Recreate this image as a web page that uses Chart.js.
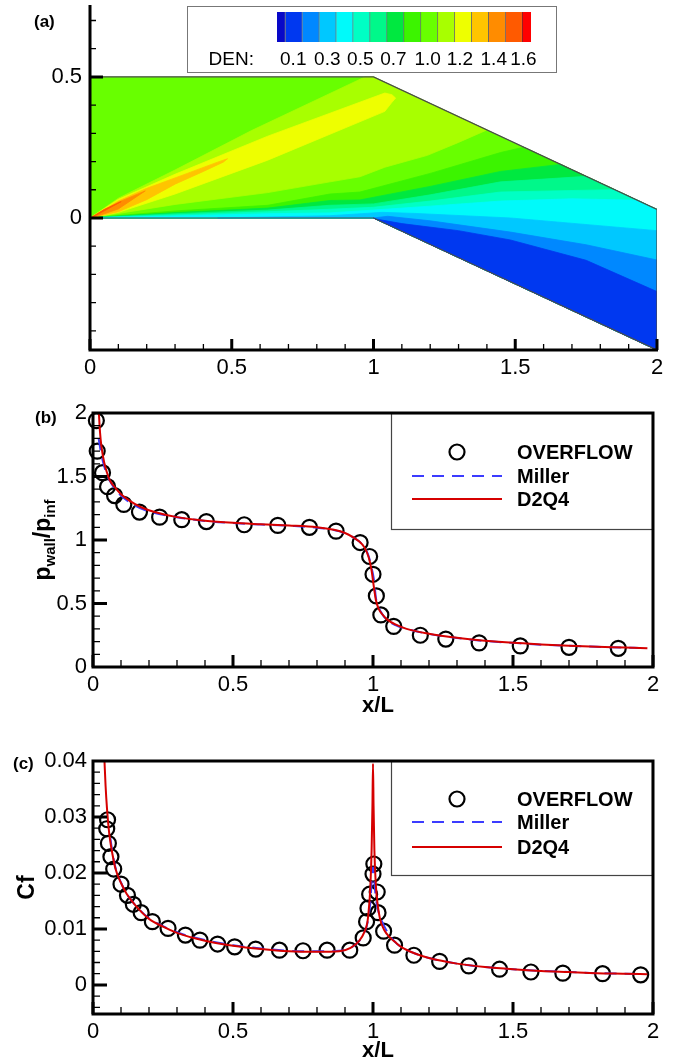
<!DOCTYPE html>
<html>
<head>
<meta charset="utf-8">
<script src="https://cdn.jsdelivr.net/npm/chart.js@4.4.1/dist/chart.umd.min.js"></script>
<style>
  html, body { margin: 0; padding: 0; background: #fff; }
  #page { position: relative; width: 674px; height: 1062px; overflow: hidden; background: #fff; }
  #page > canvas { position: absolute; left: 0; }
  #legA { position: absolute; left: 187px; top: 6px; width: 368px; height: 65px; border: 1px solid #777; background: #fff; }
  #legA canvas { position: absolute; left: 0; top: 0; }
</style>
</head>
<body>
<div id="page">
  <canvas id="panelA" width="674" height="390" style="top:0"></canvas>
  <div id="legA"><canvas id="colorbar" width="368" height="65"></canvas></div>
  <canvas id="panelB" width="674" height="330" style="top:390px"></canvas>
  <canvas id="panelC" width="674" height="327" style="top:735px"></canvas>
</div>
<script>
// ---------- (a) densidad: barra de colores ----------
const DEN_LABELS = ['DEN:', '0.1', '0.3', '0.5', '0.7', '1.0', '1.2', '1.4', '1.6'];
const DEN_LABEL_AT = [-2.7, 0.96, 2.97, 4.92, 6.87, 8.9, 10.8, 12.8, 14.55];
const DEN_EDGES = [0, 0.5, 1.5, 2.5, 3.5, 4.5, 5.5, 6.5, 7.5, 8.5, 9.5, 10.5, 11.5, 12.5, 13.5, 14.5, 15];
const DEN_COLORS = ['#0808c8', '#0038f0', '#0088ff', '#00c8ff', '#00fafa', '#00ffc4', '#00f88a', '#00e840',
                    '#3cf400', '#68ff00', '#a8ff00', '#eeff00', '#ffc400', '#ff8c00', '#ff5a00', '#ff0000'];
const CB_MIN = -5.256;

// ---------- (a) geometria y contornos (x/L, y/L) ----------
const DOMAIN = [[0, 0], [0, 0.5], [1, 0.5], [2, 0.03], [2, -0.468], [1, 0], [0, 0]];
const SHOCK_LIME = [[0, 0], [0.1, 0.07], [0.3, 0.17], [0.57, 0.31], [0.97, 0.5], [1, 0.5], [1.40, 0.312], [1.3, 0.268],
                    [1.19, 0.222], [1.04, 0.18], [0.952, 0.146], [0.846, 0.128], [0.627, 0.09], [0.3, 0.048], [0.05, 0.008], [0, 0]];
const SHOCK_YELLOW = [[0, 0], [0.1, 0.066], [0.3, 0.155], [0.627, 0.29], [1.04, 0.443], [1.065, 0.437], [1.078, 0.425],
                      [1.065, 0.41], [1.04, 0.378], [0.627, 0.205], [0.3, 0.085], [0.1, 0.02], [0, 0]];
const SHOCK_GOLD = [[0, 0], [0.1, 0.06], [0.2, 0.105], [0.343, 0.158], [0.45, 0.198], [0.485, 0.21], [0.47, 0.198],
                    [0.4, 0.165], [0.3, 0.12], [0.2, 0.065], [0.1, 0.022], [0, 0]];
const SHOCK_ORANGE = [[0, 0], [0.1, 0.056], [0.195, 0.096], [0.18, 0.086], [0.1, 0.032], [0.03, 0.008], [0, 0]];
const SHOCK_CORE = [[0.005, 0.002], [0.05, 0.03], [0.11, 0.058], [0.07, 0.036], [0.02, 0.009], [0.005, 0.002]];
const FAN_98 = [[0.03, 0.003], [0.3, 0.025], [0.627, 0.045], [0.846, 0.085], [0.952, 0.092], [1.2, 0.158], [1.448, 0.232], [1.53, 0.251]];
const FAN_87 = [[0.03, 0.0025], [0.3, 0.019], [0.627, 0.035], [0.846, 0.062], [0.952, 0.064], [1.2, 0.112], [1.448, 0.165], [1.66, 0.19]];
const FAN_76 = [[0.03, 0.002], [0.3, 0.015], [0.627, 0.028], [0.846, 0.045], [1.0, 0.05], [1.2, 0.082], [1.448, 0.128], [1.75, 0.1475]];
const FAN_65 = [[0.03, 0.0015], [0.3, 0.011], [0.627, 0.022], [0.846, 0.031], [1.0, 0.038], [1.2, 0.06], [1.448, 0.092], [1.85, 0.1005]];
const FAN_54 = [[0.03, 0.001], [0.3, 0.007], [0.627, 0.015], [0.846, 0.018], [1.0, 0.028], [1.2, 0.042], [1.448, 0.06], [1.7, 0.068], [1.93, 0.063]];
const FAN_43 = [[0.45, 0], [0.846, 0.008], [0.97, 0.016], [1.03, 0.02], [1.15, 0.016], [1.483, 0.0], [2, -0.045]];
const FAN_32 = [[1.0, 0], [1.05, 0.006], [1.2, -0.01], [1.483, -0.05], [1.75, -0.095], [2, -0.149]];
const FAN_21 = [[1.01, -0.004], [1.1, -0.02], [1.3, -0.045], [1.483, -0.078], [1.75, -0.15], [2, -0.261]];

// ---------- (b) presion en la pared ----------
const P_OVF_X = [0.012, 0.015, 0.034, 0.052, 0.077, 0.11, 0.166, 0.238, 0.317, 0.405, 0.54, 0.66, 0.773, 0.868, 0.954,
                 0.988, 1.0, 1.012, 1.028, 1.074, 1.169, 1.26, 1.379, 1.526, 1.70, 1.876];
const P_OVF_Y = [1.94, 1.70, 1.53, 1.42, 1.35, 1.28, 1.22, 1.18, 1.16, 1.145, 1.12, 1.115, 1.10, 1.07, 0.98,
                 0.87, 0.73, 0.56, 0.41, 0.32, 0.25, 0.22, 0.19, 0.166, 0.155, 0.147];
const P_MIL_X = [0.02, 0.03, 0.04, 0.05, 0.07, 0.1, 0.15, 0.2, 0.3, 0.4, 0.5, 0.6, 0.7, 0.8, 0.86, 0.9, 0.93, 0.95, 0.97,
                 0.985, 0.995, 1.0, 1.005, 1.01, 1.02, 1.035, 1.05, 1.08, 1.12, 1.2, 1.3, 1.4, 1.5, 1.6, 1.7, 1.8, 1.9, 1.95];
const P_MIL_Y = [1.8, 1.67, 1.58, 1.51, 1.43, 1.35, 1.27, 1.225, 1.18, 1.15, 1.133, 1.122, 1.112, 1.097, 1.078, 1.053, 1.02,
                 0.99, 0.94, 0.87, 0.78, 0.73, 0.66, 0.55, 0.47, 0.41, 0.37, 0.33, 0.3, 0.26, 0.228, 0.205, 0.19, 0.176,
                 0.167, 0.159, 0.152, 0.15];
const P_D2Q4_X = [0.021, 0.025, 0.03, 0.04, 0.05, 0.06, 0.08, 0.1, 0.13, 0.17, 0.22, 0.3, 0.4, 0.5, 0.6, 0.7, 0.8, 0.86,
                  0.9, 0.93, 0.95, 0.97, 0.985, 0.995, 1.0, 1.005, 1.01, 1.02, 1.035, 1.05, 1.08, 1.12, 1.2, 1.3, 1.4,
                  1.5, 1.6, 1.7, 1.8, 1.9, 1.98];
const P_D2Q4_Y = [2.0, 1.85, 1.74, 1.61, 1.53, 1.47, 1.41, 1.36, 1.31, 1.26, 1.22, 1.18, 1.152, 1.135, 1.124, 1.114, 1.1,
                  1.08, 1.055, 1.02, 0.99, 0.94, 0.86, 0.76, 0.68, 0.6, 0.53, 0.46, 0.41, 0.375, 0.335, 0.3, 0.262,
                  0.23, 0.207, 0.19, 0.178, 0.168, 0.16, 0.153, 0.147];

// ---------- (c) coeficiente de friccion ----------
const C_OVF_X = [0.052, 0.049, 0.055, 0.064, 0.074, 0.10, 0.123, 0.144, 0.172, 0.212, 0.268, 0.33, 0.382, 0.445, 0.506,
                 0.581, 0.666, 0.75, 0.836, 0.917, 0.965, 0.977, 0.982, 0.988, 1.0, 1.003, 1.015, 1.018, 1.038, 1.077,
                 1.146, 1.238, 1.342, 1.452, 1.564, 1.678, 1.82, 1.956];
const C_OVF_Y = [0.0295, 0.0279, 0.0253, 0.0229, 0.0207, 0.018, 0.016, 0.0144, 0.0129, 0.0113, 0.0101, 0.0089, 0.008,
                 0.0073, 0.0068, 0.0064, 0.0062, 0.0061, 0.0062, 0.0062, 0.0084, 0.0113, 0.0137, 0.0162, 0.0198, 0.0216,
                 0.0166, 0.0129, 0.0096, 0.0071, 0.0053, 0.0042, 0.0034, 0.0028, 0.0023, 0.0021, 0.002, 0.0018];
const C_MIL_X = [0.062, 0.07, 0.08, 0.1, 0.12, 0.15, 0.2, 0.25, 0.3, 0.4, 0.5, 0.6, 0.7, 0.8, 0.88, 0.92, 0.95, 0.97, 0.98,
                 0.99, 1.0, 1.01, 1.02, 1.04, 1.06, 1.08, 1.1, 1.15, 1.2, 1.3, 1.4, 1.5, 1.6, 1.7, 1.8, 1.9, 1.97];
const C_MIL_Y = [0.0262, 0.0235, 0.021, 0.0183, 0.0163, 0.0143, 0.0119, 0.0105, 0.0094, 0.008, 0.0071, 0.0065, 0.0061,
                 0.006, 0.0061, 0.0066, 0.0078, 0.0095, 0.011, 0.0145, 0.021, 0.0155, 0.013, 0.0105, 0.0088, 0.0076,
                 0.0068, 0.0056, 0.0048, 0.0038, 0.0032, 0.0028, 0.0025, 0.0023, 0.0021, 0.002, 0.0019];
const C_D2Q4_X = [0.041, 0.045, 0.05, 0.055, 0.06, 0.07, 0.08, 0.1, 0.12, 0.15, 0.2, 0.25, 0.3, 0.4, 0.5, 0.6, 0.7, 0.8,
                  0.88, 0.92, 0.95, 0.97, 0.98, 0.985, 0.99, 0.995, 0.998, 1.0, 1.002, 1.005, 1.01, 1.015, 1.025, 1.04,
                  1.06, 1.08, 1.1, 1.15, 1.2, 1.3, 1.4, 1.5, 1.6, 1.7, 1.8, 1.9, 1.98];
const C_D2Q4_Y = [0.04, 0.0355, 0.0315, 0.0285, 0.0262, 0.0232, 0.0208, 0.0182, 0.0163, 0.0143, 0.0118, 0.0104, 0.0093,
                  0.0079, 0.007, 0.0064, 0.006, 0.0059, 0.006, 0.0066, 0.0078, 0.0095, 0.0112, 0.0135, 0.017, 0.024,
                  0.032, 0.0395, 0.032, 0.024, 0.018, 0.015, 0.0118, 0.0098, 0.0085, 0.0076, 0.0068, 0.0056, 0.0048,
                  0.0038, 0.0032, 0.0028, 0.0025, 0.0023, 0.0021, 0.002, 0.0019];

// ---------- ejes ----------
const X_MAJOR = [0, 0.5, 1, 1.5, 2];
const A_Y_TICKS = [0, 0.5];
const B_Y_TICKS = [0, 0.5, 1, 1.5, 2];
const C_Y_TICKS = [0, 0.01, 0.02, 0.03, 0.04];

const FONT = '"Liberation Sans", Arial, Helvetica, sans-serif';
const TICK_SIZE = 22;
Chart.defaults.font.family = FONT;
Chart.defaults.color = '#000';

function steps(a, b, s) {
  const out = [];
  for (let v = a; v <= b + 1e-9; v += s) out.push(+v.toFixed(4));
  return out;
}
const without = (arr, skip) => arr.filter(v => !skip.includes(v));
const X_MINOR = without(steps(0.1, 1.9, 0.1), X_MAJOR);
const zip = (xs, ys) => xs.map((x, i) => ({ x, y: ys[i] }));
const pts = arr => arr.map(([x, y]) => ({ x, y }));

// cierra un contorno por la frontera inferior/derecha del dominio
function closeBelow(line) {
  const first = line[0], last = line[line.length - 1];
  const poly = line.slice();
  if (last[0] < 2) poly.push(DOMAIN[3]);
  poly.push(DOMAIN[4], DOMAIN[5]);
  if (first[0] < 1) poly.push([first[0], 0]);
  poly.push(first);
  return poly;
}

const BANDS = [
  { poly: DOMAIN, band: 9 },
  { poly: SHOCK_LIME, band: 10 },
  { poly: SHOCK_YELLOW, band: 11 },
  { poly: SHOCK_GOLD, band: 12 },
  { poly: SHOCK_ORANGE, band: 13 },
  { poly: SHOCK_CORE, band: 14 },
  { poly: closeBelow(FAN_98), band: 8 },
  { poly: closeBelow(FAN_87), band: 7 },
  { poly: closeBelow(FAN_76), band: 6 },
  { poly: closeBelow(FAN_65), band: 5 },
  { poly: closeBelow(FAN_54), band: 4 },
  { poly: closeBelow(FAN_43), band: 3 },
  { poly: closeBelow(FAN_32), band: 2 },
  { poly: closeBelow(FAN_21), band: 1 }
];

function tickScale(list, size, pad, fixW, fixH) {
  return {
    grid: { display: false, drawTicks: false },
    border: { display: false },
    afterBuildTicks: s => { s.ticks = list.map(v => ({ value: v })); },
    afterFit: s => {
      if (fixW) s.width = fixW;
      if (fixH) s.height = fixH;
      s.paddingTop = 0; s.paddingBottom = 0; s.paddingLeft = 0; s.paddingRight = 0;
    },
    ticks: { autoSkip: false, maxRotation: 0, padding: pad, color: '#000', font: { size: size }, callback: v => String(v) }
  };
}

function drawYTitle(ctx, parts, bx, cy, size, subSize, subShift) {
  ctx.save();
  ctx.translate(bx, cy);
  ctx.rotate(-Math.PI / 2);
  ctx.fillStyle = '#000';
  ctx.textAlign = 'left';
  ctx.textBaseline = 'alphabetic';
  const fontOf = p => 'bold ' + (p.sub ? subSize : size) + 'px ' + FONT;
  let total = 0;
  parts.forEach(p => { ctx.font = fontOf(p); total += ctx.measureText(p.t).width; });
  let u = -total / 2;
  parts.forEach(p => {
    ctx.font = fontOf(p);
    ctx.fillText(p.t, u, p.sub ? subShift : 0);
    u += ctx.measureText(p.t).width;
  });
  ctx.restore();
}

// marcos, ticks hacia dentro, leyenda y titulos
function decor(o) {
  return {
    id: 'decor',
    afterDatasetsDraw(chart) {
      const { ctx, chartArea: a, scales: { x, y } } = chart;
      ctx.save();
      if (o.legend) {
        const L = o.legend, x0 = a.right - L.w, y0 = a.top;
        ctx.fillStyle = '#fff';
        ctx.fillRect(x0, y0, L.w, L.h);
        ctx.strokeStyle = '#444';
        ctx.lineWidth = 1.2;
        ctx.strokeRect(x0 + 0.5, y0 + 0.5, L.w - 1, L.h - 1);
        chart.data.datasets.forEach((ds, i) => {
          const cy = y0 + L.rows[i];
          if (ds.showLine) {
            ctx.strokeStyle = ds.borderColor;
            ctx.lineWidth = ds.borderWidth;
            ctx.setLineDash(ds.borderDash || []);
            ctx.beginPath(); ctx.moveTo(x0 + 21, cy); ctx.lineTo(x0 + 111, cy); ctx.stroke();
            ctx.setLineDash([]);
          } else {
            ctx.strokeStyle = ds.borderColor;
            ctx.lineWidth = ds.borderWidth;
            ctx.beginPath(); ctx.arc(x0 + 66, cy, ds.pointRadius, 0, Math.PI * 2); ctx.stroke();
          }
          ctx.fillStyle = '#000';
          ctx.font = 'bold 20px ' + FONT;
          ctx.textAlign = 'left';
          ctx.textBaseline = 'middle';
          ctx.fillText(ds.label, x0 + 126, cy + 1);
        });
      }
      ctx.strokeStyle = '#000';
      const tick = (scale, vals, len, lw) => {
        ctx.lineWidth = lw;
        ctx.beginPath();
        vals.forEach(v => {
          const p = scale.getPixelForValue(v);
          if (scale.isHorizontal()) { ctx.moveTo(p, a.bottom); ctx.lineTo(p, a.bottom - len); }
          else { ctx.moveTo(a.left, p); ctx.lineTo(a.left + len, p); }
        });
        ctx.stroke();
      };
      tick(x, X_MINOR, o.minorLen, 1.3);
      tick(x, X_MAJOR, o.majorX, 3);
      tick(y, o.yMinor, o.minorLen, 1.3);
      tick(y, o.yMajor, o.majorY, 3);
      ctx.lineWidth = 3;
      if (o.box) {
        ctx.strokeRect(a.left, a.top, a.right - a.left, a.bottom - a.top);
      } else {
        ctx.beginPath(); ctx.moveTo(a.left, a.top); ctx.lineTo(a.left, a.bottom); ctx.lineTo(a.right + 1, a.bottom); ctx.stroke();
      }
      ctx.fillStyle = '#000';
      ctx.textAlign = 'left';
      ctx.textBaseline = 'alphabetic';
      ctx.font = 'bold 17px ' + FONT;
      ctx.fillText(o.label.text, o.label.x, o.label.y);
      if (o.xTitle) {
        ctx.font = 'bold 22px ' + FONT;
        ctx.textAlign = 'center';
        ctx.fillText(o.xTitle, (a.left + a.right) / 2 + 5, a.bottom + o.xTitleDy);
      }
      if (o.yTitle) drawYTitle(ctx, o.yTitle, o.yTitleX, (a.top + a.bottom) / 2, 23, 15, 5);
      ctx.restore();
    }
  };
}

const baseOpts = {
  responsive: false, animation: false, events: [], devicePixelRatio: 1,
  plugins: { legend: { display: false }, tooltip: { enabled: false } }
};

// ---------- panel (a) ----------
const bandSets = BANDS.map((b, i) => ({
  data: pts(b.poly), showLine: true, fill: 'shape', tension: 0,
  backgroundColor: DEN_COLORS[b.band], borderColor: DEN_COLORS[b.band], borderWidth: 0.8,
  pointRadius: 0, order: BANDS.length - i + 1
}));
bandSets.push({ data: pts(DOMAIN), showLine: true, fill: false, borderColor: '#4a4a4a', borderWidth: 1.2, pointRadius: 0, order: 0 });

new Chart(document.getElementById('panelA'), {
  type: 'scatter',
  data: { datasets: bandSets },
  options: Object.assign({}, baseOpts, {
    layout: { padding: { top: 5, right: 17, left: 0, bottom: 0 }, autoPadding: false },
    scales: {
      x: Object.assign({ type: 'linear', min: 0, max: 2 }, tickScale(X_MAJOR, TICK_SIZE, 5, 0, 40)),
      y: Object.assign({ type: 'linear', min: -0.468, max: 0.755 }, tickScale(A_Y_TICKS, TICK_SIZE, 8, 90, 0))
    }
  }),
  plugins: [decor({
    box: false, yMajor: A_Y_TICKS, yMinor: without(steps(-0.4, 0.7, 0.1), A_Y_TICKS),
    majorX: 11, majorY: 13, minorLen: 6, label: { text: '(a)', x: 34, y: 27 }
  })]
});

// barra de colores DEN
new Chart(document.getElementById('colorbar'), {
  type: 'bar',
  data: {
    labels: ['DEN'],
    datasets: DEN_COLORS.map((c, i) => ({
      data: [[DEN_EDGES[i], DEN_EDGES[i + 1]]],
      backgroundColor: c,
      borderColor: 'rgba(0,0,0,0.55)',
      borderWidth: { right: i < DEN_COLORS.length - 1 ? 1 : 0 },
      borderSkipped: false,
      grouped: false, barPercentage: 1, categoryPercentage: 1
    }))
  },
  options: Object.assign({}, baseOpts, {
    indexAxis: 'y',
    layout: { padding: { top: 5, right: 25, left: 0, bottom: 0 }, autoPadding: false },
    scales: {
      y: { display: false },
      x: Object.assign({ type: 'linear', min: CB_MIN, max: 15 }, tickScale(DEN_LABEL_AT, 19, 6, 0, 30), {
        ticks: { autoSkip: false, maxRotation: 0, padding: 6, color: '#000', font: { size: 19 }, callback: (v, i) => DEN_LABELS[i] }
      })
    }
  })
});

// ---------- paneles (b) y (c) ----------
function profileChart(id, o) {
  return new Chart(document.getElementById(id), {
    type: 'scatter',
    data: {
      datasets: [
        { label: 'OVERFLOW', data: zip(o.ovfX, o.ovfY), showLine: false, pointStyle: 'circle', pointRadius: 7.5,
          borderColor: '#000', backgroundColor: 'rgba(0,0,0,0)', borderWidth: 2.2, clip: false, order: 3 },
        { label: 'Miller', data: zip(o.milX, o.milY), showLine: true, borderColor: '#3c3cff', borderWidth: 2,
          borderDash: [12, 8], pointRadius: 0, cubicInterpolationMode: 'monotone', order: 2 },
        { label: 'D2Q4', data: zip(o.d2X, o.d2Y), showLine: true, borderColor: '#d60000', borderWidth: 2,
          pointRadius: 0, cubicInterpolationMode: 'monotone', order: 1 }
      ]
    },
    options: Object.assign({}, baseOpts, {
      layout: { padding: { top: o.padTop, right: 21, left: 0, bottom: 0 }, autoPadding: false },
      scales: {
        x: Object.assign({ type: 'linear', min: 0, max: 2 }, tickScale(X_MAJOR, TICK_SIZE, 5, 0, o.xH)),
        y: Object.assign({ type: 'linear', min: o.yMin, max: o.yMax }, tickScale(o.yTicks, TICK_SIZE, 6, 93, 0))
      }
    }),
    plugins: [decor(o.decor)]
  });
}

profileChart('panelB', {
  ovfX: P_OVF_X, ovfY: P_OVF_Y, milX: P_MIL_X, milY: P_MIL_Y, d2X: P_D2Q4_X, d2Y: P_D2Q4_Y,
  padTop: 23, xH: 53, yMin: 0, yMax: 2, yTicks: B_Y_TICKS,
  decor: {
    box: true, yMajor: [0.5, 1, 1.5], yMinor: without(steps(0.1, 1.9, 0.1), B_Y_TICKS),
    majorX: 12, majorY: 14, minorLen: 7, label: { text: '(b)', x: 35, y: 33 },
    xTitle: 'x/L', xTitleDy: 45,
    yTitle: [{ t: 'p' }, { t: 'wall', sub: true }, { t: '/' }, { t: 'p' }, { t: 'inf', sub: true }], yTitleX: 50,
    legend: { w: 262, h: 117, rows: [39, 63, 86] }
  }
});

profileChart('panelC', {
  ovfX: C_OVF_X, ovfY: C_OVF_Y, milX: C_MIL_X, milY: C_MIL_Y, d2X: C_D2Q4_X, d2Y: C_D2Q4_Y,
  padTop: 26, xH: 48, yMin: -0.0052, yMax: 0.04, yTicks: C_Y_TICKS,
  decor: {
    box: true, yMajor: [0, 0.01, 0.02, 0.03], yMinor: without(steps(-0.004, 0.038, 0.002), C_Y_TICKS),
    majorX: 12, majorY: 14, minorLen: 7, label: { text: '(c)', x: 13, y: 34 },
    xTitle: 'x/L', xTitleDy: 43,
    yTitle: [{ t: 'Cf' }], yTitleX: 34,
    legend: { w: 262, h: 115, rows: [38, 61, 86] }
  }
});
</script>
</body>
</html>
